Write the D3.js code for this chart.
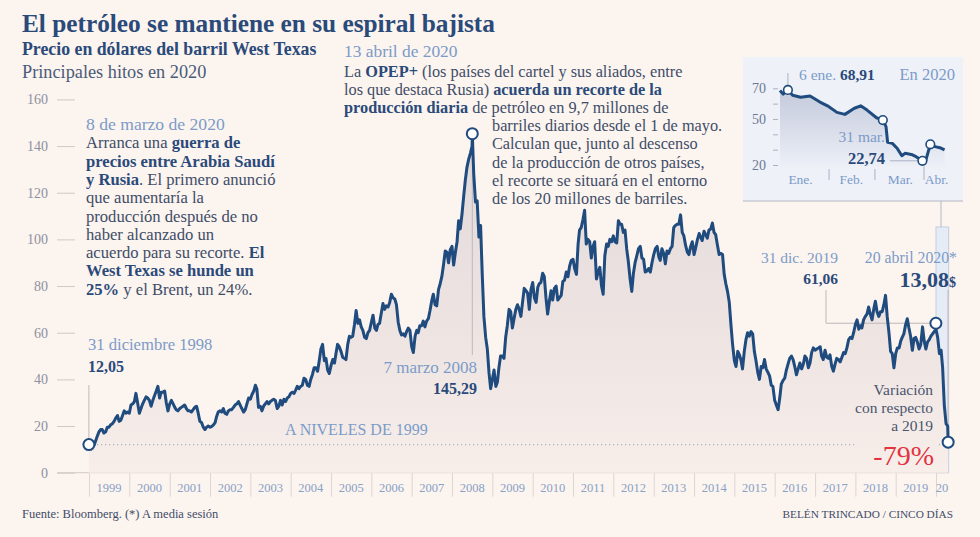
<!DOCTYPE html>
<html><head><meta charset="utf-8">
<script src="https://cdn.jsdelivr.net/npm/d3@7/dist/d3.min.js"></script>
<style>
html,body{margin:0;padding:0;background:#fcf4ef;}
svg{display:block;font-family:"Liberation Serif","Times New Roman",serif;}
</style></head><body>
<svg id="chart" width="980" height="537"></svg>
<script>
// ---------------- DATA ----------------
const yTicks = [0, 20, 40, 60, 80, 100, 120, 140, 160];
const years = [1999,2000,2001,2002,2003,2004,2005,2006,2007,2008,2009,2010,2011,2012,2013,2014,2015,2016,2017,2018,2019,2020];
const yearLabels = ["1999","2000","2001","2002","2003","2004","2005","2006","2007","2008","2009","2010","2011","2012","2013","2014","2015","2016","2017","2018","2019","20"];

// West Texas, semi-monthly readings (1st and 16th of each month) from Jan 1999
const wtiValues = [
 12.5,12.0,12.3,11.8,13.5,15.5,17.5,18.5,18.5,17.0,17.5,19.5,19.5,20.5,21.0,22.0,23.5,24.5,22.0,22.5,24.5,26.5,25.5,26.0, // 1999
 25.5,29.0,29.5,30.5,34.0,30.0,25.5,27.5,29.5,31.0,32.5,32.0,31.0,28.5,31.0,33.0,35.0,37.0,32.0,34.5,34.5,35.0,30.0,26.5, // 2000
 29.5,31.0,29.5,28.0,27.0,26.5,27.5,28.0,28.5,29.0,27.5,26.5,26.5,26.0,27.0,28.0,28.5,25.5,22.0,21.5,19.5,18.5,19.5,20.0, // 2001
 19.5,19.8,20.5,21.5,24.0,26.0,26.5,26.0,27.5,25.5,25.0,26.5,27.0,27.0,28.0,29.0,29.5,30.5,29.0,27.5,26.0,27.0,29.5,32.0, // 2002
 31.5,33.5,35.0,37.5,36.0,28.0,28.5,26.5,28.5,29.5,30.5,29.5,30.5,31.0,31.5,31.0,27.5,28.5,31.0,29.0,31.5,30.5,32.0,32.5, // 2003
 34.0,34.5,34.0,35.5,37.0,36.0,37.0,37.5,40.5,40.0,37.5,37.0,40.0,42.0,45.0,45.0,43.5,48.0,53.0,55.0,48.0,49.0,44.0,42.5, // 2004
 46.0,48.5,47.0,51.5,55.0,54.0,52.0,49.5,49.0,48.5,55.0,58.5,58.0,58.5,63.5,69.5,64.0,65.5,62.5,61.0,58.0,57.5,60.0,61.0, // 2005
 64.5,67.5,62.0,61.0,63.5,64.0,68.5,72.5,70.0,71.5,71.0,73.0,76.5,75.0,74.5,72.0,64.5,61.0,59.0,59.5,58.5,60.5,62.0,61.0, // 2006
 54.0,51.5,58.5,61.0,60.0,63.0,63.0,65.0,62.5,65.0,66.0,69.5,73.5,76.5,72.0,71.5,78.5,81.0,84.0,89.0,95.0,94.5,90.0,95.5, // 2007
 97.0,89.0,94.5,99.0,108.0,104.5,111.0,118.5,125.5,131.0,134.5,137.0,140.0,128.0,116.0,116.5,101.0,106.0,85.0,67.0,58.0,53.0,43.0,36.0, // 2008
 40.0,44.0,37.0,39.0,45.0,50.0,50.0,49.0,58.0,63.0,70.0,69.0,62.0,66.0,70.0,72.0,70.0,67.0,73.0,79.0,78.0,77.0,70.0,78.5, // 2009
 81.5,75.0,73.0,79.5,81.0,81.5,85.5,84.0,75.0,68.0,73.5,78.0,74.0,79.0,80.0,74.0,75.0,76.0,82.0,82.5,86.0,84.0,88.5,91.0, // 2010
 91.5,87.5,85.0,98.0,104.0,105.0,108.5,112.5,98.0,100.0,99.0,92.0,97.0,99.0,83.0,86.0,88.0,80.0,76.5,93.0,98.0,97.0,100.0,99.0, // 2011
 101.5,99.0,98.5,108.0,106.5,106.5,103.0,104.0,96.0,90.5,83.0,77.7,85.5,90.0,93.0,96.0,97.0,92.0,91.5,86.0,86.5,87.5,86.0,90.0, // 2012
 93.5,96.0,97.0,92.5,91.0,96.0,94.0,89.5,95.0,94.0,96.0,97.0,105.0,106.0,106.5,106.5,110.5,103.0,101.5,97.5,94.5,93.5,97.0,99.0, // 2013
 93.5,96.5,100.0,102.5,101.0,99.5,103.5,102.0,100.5,104.0,104.5,107.0,103.0,102.0,97.5,93.5,94.0,93.5,85.0,81.0,77.5,73.0,63.5,55.0, // 2014
 48.0,45.5,52.0,50.5,48.5,44.5,52.0,57.0,60.0,58.5,60.5,59.5,52.0,48.0,43.0,40.0,45.5,45.0,48.5,44.5,43.0,41.5,37.5,37.0, // 2015
 31.0,29.0,27.0,32.0,38.0,39.5,40.5,44.0,46.5,49.0,50.0,48.5,45.5,42.0,44.5,47.0,44.5,46.5,50.0,49.0,45.0,47.0,51.5,53.5, // 2016
 52.5,53.0,53.5,54.0,50.0,48.5,52.5,49.5,49.0,50.5,45.5,43.5,46.5,49.0,48.5,47.5,49.5,51.5,51.0,53.5,57.0,58.0,57.5,60.0, // 2017
 63.5,65.5,61.5,63.0,62.0,65.5,67.0,68.0,71.0,68.0,65.5,70.0,73.5,69.0,67.0,69.0,69.0,72.0,76.0,67.0,60.0,52.0,51.0,45.0, // 2018
 51.0,53.5,53.5,56.5,58.0,59.5,63.5,66.0,62.0,58.5,52.5,57.5,58.0,56.0,53.0,55.0,62.5,56.5,53.0,56.0,57.0,58.5,59.5,60.5, // 2019
 61.5,58.0,51.0,52.5,45.0,29.0,21.0,20.0                                                                              // 2020
];
// highlighted points (dates and values as labelled)
const keyDates  = ["1998-12-31", "2008-07-03", "2019-12-31", "2020-04-20"];
const keyValues = [12.05, 145.29, 61.06, 13.08];

// Inset: 2020
const insetDates = ["2020-01-01","2020-01-03","2020-01-06","2020-01-09","2020-01-14","2020-01-20","2020-01-26","2020-01-31",
  "2020-02-06","2020-02-11","2020-02-17","2020-02-21","2020-02-25","2020-03-02","2020-03-06","2020-03-08","2020-03-09",
  "2020-03-12","2020-03-15","2020-03-18","2020-03-20","2020-03-24","2020-03-27","2020-03-31","2020-04-02","2020-04-05",
  "2020-04-08","2020-04-11","2020-04-14"];
const insetValues = [68.6,66.2,68.91,65.5,64.2,65.0,61.2,58.6,
  54.3,53.0,57.0,58.6,55.8,50.8,49.3,45.0,34.8,
  34.1,30.9,26.0,27.6,26.9,25.4,22.74,22.6,33.5,
  32.0,31.3,29.8];
const insetMarkerDates = ["2020-01-06","2020-03-06","2020-03-31","2020-04-05"];
const insetMarkerValues = [68.91, 49.3, 22.74, 33.5];
const insetTicks = [20, 30, 40, 50, 60, 70];
const insetTickLabels = [20, 50, 70];
const monthLabels = ["Ene.", "Feb.", "Mar.", "Abr."];
const monthLabelDates = ["2020-01-14", "2020-02-15", "2020-03-17", "2020-04-09"];
const monthStarts = ["2020-02-01", "2020-03-01", "2020-04-01"];

// ---------------- HELPERS ----------------
const parse = d3.timeParse("%Y-%m-%d");
const svg = d3.select("#chart");
const C = {
  bg: "#fcf4ef", navy: "#2a4a7a", line: "#1f4b7e", light: "#7b9bc8",
  body: "#3e4d68", grey: "#8c91a0", red: "#e2333f", leader: "#bdb8bc"
};

const series = wtiValues.map((v, i) => ({
  date: new Date(1999 + Math.floor(i / 24), Math.floor((i % 24) / 2), (i % 2) ? 16 : 1),
  value: v
}));
keyDates.forEach((d, i) => series.push({date: parse(d), value: keyValues[i]}));
series.sort((a, b) => a.date - b.date);

// ---------------- SCALES ----------------
const x = d3.scaleTime().domain([new Date(1999,0,1), new Date(2020,0,1)]).range([89, 936]);
const y = d3.scaleLinear().domain([0, 160]).range([472.7, 99.4]);

const defs = svg.append("defs");
const g1 = defs.append("linearGradient").attr("id","mainFill").attr("gradientUnits","userSpaceOnUse")
  .attr("x1",0).attr("y1",130).attr("x2",0).attr("y2",472);
g1.append("stop").attr("offset",0).attr("stop-color","#e0d7d8");
g1.append("stop").attr("offset",1).attr("stop-color","#f7eeea");
const g2 = defs.append("linearGradient").attr("id","insetFill").attr("gradientUnits","userSpaceOnUse")
  .attr("x1",0).attr("y1",88).attr("x2",0).attr("y2",168);
g2.append("stop").attr("offset",0).attr("stop-color","#c3c9db");
g2.append("stop").attr("offset",1).attr("stop-color","#edf0f7");

svg.append("rect").attr("width",980).attr("height",537).attr("fill",C.bg);

// ---------------- TITLES ----------------
svg.append("text").attr("x",22).attr("y",32).attr("font-size",25.3).attr("font-weight","bold").attr("fill",C.navy)
  .text("El petróleo se mantiene en su espiral bajista");
svg.append("text").attr("x",22).attr("y",55).attr("font-size",17.8).attr("font-weight","bold").attr("fill",C.navy)
  .text("Precio en dólares del barril West Texas");
svg.append("text").attr("x",22).attr("y",78).attr("font-size",18.3).attr("fill","#4a5b78")
  .text("Principales hitos en 2020");

// ---------------- 2020 BAND ----------------
svg.append("rect").attr("x", x(new Date(2020,0,1))).attr("y",227)
  .attr("width", x(parse("2020-04-20")) - x(new Date(2020,0,1)) + 0.5).attr("height", 472.7-227)
  .attr("fill","#e6ecf6").attr("stroke","#c3cce0").attr("stroke-width",1);

// ---------------- AXES ----------------
const yAxis = d3.axisLeft(y).tickValues(yTicks).tickSize(18).tickPadding(9);
const gy = svg.append("g").attr("transform","translate(75,0)").call(yAxis);
gy.select(".domain").remove();
gy.selectAll(".tick line").attr("stroke","#cfc8c6");
gy.selectAll(".tick text").attr("fill",C.grey).attr("font-size",14).attr("font-family","Liberation Serif");

svg.append("line").attr("x1",57).attr("x2",948).attr("y1",y(0)).attr("y2",y(0)).attr("stroke","#d3cbc8");
const xAxis = d3.axisBottom(x).tickValues(years.map(yr => new Date(yr,0,1))).tickSize(24).tickFormat("");
const gx = svg.append("g").attr("transform",`translate(0,${y(0)})`).call(xAxis);
gx.select(".domain").remove();
gx.selectAll(".tick line").attr("stroke","#ddd5d2");
svg.append("g").selectAll("text").data(years).join("text")
  .attr("x", yr => yr === 2020 ? x(new Date(2020,1,25)) : x(new Date(yr,6,2)))
  .attr("y", 492).attr("text-anchor","middle").attr("font-size",12.5).attr("fill","#88a1c6")
  .text((yr, i) => yearLabels[i]);

// ---------------- AREA + LINE ----------------
svg.append("path").datum(series)
  .attr("d", d3.area().x(d => x(d.date)).y0(y(0)).y1(d => y(d.value)))
  .attr("fill","url(#mainFill)");

const lvl = y(keyValues[0]);
svg.append("line").attr("x1",97).attr("x2",857).attr("y1",lvl).attr("y2",lvl)
  .attr("stroke","#a9b2c6").attr("stroke-width",1.2).attr("stroke-dasharray","1.2 2.8");
svg.append("line").attr("x1",939).attr("x2",946).attr("y1",lvl).attr("y2",lvl)
  .attr("stroke","#a9b2c6").attr("stroke-width",1.2).attr("stroke-dasharray","1.2 2.8");
svg.append("text").attr("x",285).attr("y",435).attr("font-size",16).attr("fill",C.light)
  .text("A NIVELES DE 1999");

const kx = keyDates.map(d => x(parse(d)));
const ky = keyValues.map(v => y(v));
const leader = (pts) => svg.append("path").attr("d", d3.line()(pts)).attr("fill","none")
  .attr("stroke",C.leader).attr("stroke-width",1);
leader([[kx[0], 385], [kx[0], ky[0]-6]]);
leader([[kx[1], ky[1]+6], [kx[1], 355]]);
leader([[826, 290], [826, ky[2]-7], [kx[2]-6, ky[2]-7]]);
leader([[948, 290], [948, ky[3]-6]]);

svg.append("path").datum(series)
  .attr("d", d3.line().x(d => x(d.date)).y(d => y(d.value)))
  .attr("fill","none").attr("stroke",C.line).attr("stroke-width",3).attr("stroke-linejoin","round");

svg.append("g").selectAll("circle").data(keyDates).join("circle")
  .attr("cx", (d,i) => kx[i]).attr("cy", (d,i) => ky[i] - (i===2 ? 7 : 0)).attr("r",5.5)
  .attr("fill","#fff").attr("stroke",C.line).attr("stroke-width",2);

// ---------------- ANNOTATIONS ----------------
function rich(x0, y0, lines, lh, size) {
  const t = svg.append("g");
  lines.forEach((ln, i) => {
    const tx = t.append("text").attr("x", ln.x != null ? ln.x : x0).attr("y", y0 + i*lh).attr("font-size", size);
    ln.segs.forEach(s => tx.append("tspan").attr("font-weight", s[1] ? "bold" : "normal")
      .attr("fill", s[1] ? C.navy : C.body).text(s[0]));
  });
}
svg.append("text").attr("x",86).attr("y",130).attr("font-size",17.6).attr("fill",C.light).text("8 de marzo de 2020");
rich(86, 148.3, [
  {segs:[["Arranca una ",0],["guerra de",1]]},
  {segs:[["precios entre Arabia Saudí",1]]},
  {segs:[["y Rusia",1],[". El primero anunció",0]]},
  {segs:[["que aumentaría la",0]]},
  {segs:[["producción después de no",0]]},
  {segs:[["haber alcanzado un",0]]},
  {segs:[["acuerdo para su recorte. ",0],["El",1]]},
  {segs:[["West Texas se hunde un",1]]},
  {segs:[["25%",1],[" y el Brent, un 24%.",0]]}
], 18.3, 16.6);

svg.append("text").attr("x",344).attr("y",57).attr("font-size",17.4).attr("fill",C.light).text("13 abril de 2020");
rich(344, 76.5, [
  {segs:[["La ",0],["OPEP+",1],[" (los países del cartel y sus aliados, entre",0]]},
  {segs:[["los que destaca Rusia) ",0],["acuerda un recorte de la",1]]},
  {segs:[["producción diaria",1],[" de petróleo en 9,7 millones de",0]]},
  {x:492, segs:[["barriles diarios desde el 1 de mayo.",0]]},
  {x:492, segs:[["Calculan que, junto al descenso",0]]},
  {x:492, segs:[["de la producción de otros países,",0]]},
  {x:492, segs:[["el recorte se situará en el entorno",0]]},
  {x:492, segs:[["de los 20 millones de barriles.",0]]}
], 18.2, 16.3);

svg.append("text").attr("x",88).attr("y",350).attr("font-size",16.6).attr("fill",C.light).text("31 diciembre 1998");
svg.append("text").attr("x",88).attr("y",372).attr("font-size",16).attr("font-weight","bold").attr("fill",C.navy).text("12,05");
svg.append("text").attr("x",477).attr("y",373).attr("text-anchor","end").attr("font-size",17).attr("fill",C.light).text("7 marzo 2008");
svg.append("text").attr("x",477).attr("y",394).attr("text-anchor","end").attr("font-size",16).attr("font-weight","bold").attr("fill",C.navy).text("145,29");
svg.append("text").attr("x",838).attr("y",263).attr("text-anchor","end").attr("font-size",15.5).attr("fill",C.light).text("31 dic. 2019");
svg.append("text").attr("x",838).attr("y",284).attr("text-anchor","end").attr("font-size",15.5).attr("font-weight","bold").attr("fill",C.navy).text("61,06");
svg.append("text").attr("x",957).attr("y",263).attr("text-anchor","end").attr("font-size",15.8).attr("fill",C.light).text("20 abril 2020*");
const big = svg.append("text").attr("x",956).attr("y",287).attr("text-anchor","end").attr("font-weight","bold").attr("fill",C.navy);
big.append("tspan").attr("font-size",22).text("13,08");
big.append("tspan").attr("font-size",14).text("$");
["Variación","con respecto","a 2019"].forEach((t,i) =>
  svg.append("text").attr("x",933).attr("y",395+i*18).attr("text-anchor","end").attr("font-size",15.5).attr("fill","#4a556e").text(t));
svg.append("text").attr("x",934).attr("y",465).attr("text-anchor","end").attr("font-size",28).attr("fill",C.red).text("-79%");

// ---------------- INSET ----------------
svg.append("rect").attr("x",743).attr("y",57).attr("width",220).attr("height",144).attr("fill","#eef1f8");
svg.append("line").attr("x1",743).attr("x2",963).attr("y1",201).attr("y2",201).attr("stroke","#b3b8c6").attr("stroke-width",1);
svg.append("line").attr("x1",941).attr("x2",941).attr("y1",201).attr("y2",227).attr("stroke","#b3b8c6").attr("stroke-width",1);

const ix = d3.scaleTime().domain([parse("2020-01-01"), parse("2020-04-01")]).range([780, 924]);
const iy = d3.scaleLinear().domain([20, 70]).range([165, 88.3]);
const iData = insetDates.map((d,i) => ({date: parse(d), value: insetValues[i]}));

const gyi = svg.append("g").attr("transform","translate(778,0)")
  .call(d3.axisLeft(iy).tickValues(insetTicks).tickSize(5).tickPadding(7)
    .tickFormat(v => insetTickLabels.includes(v) ? v : ""));
gyi.select(".domain").remove();
gyi.selectAll(".tick line").attr("stroke","#aab1c4");
gyi.selectAll(".tick text").attr("fill","#6b7894").attr("font-size",14).attr("font-family","Liberation Serif");

svg.append("g").selectAll("line").data(monthStarts).join("line")
  .attr("x1", d => ix(parse(d))).attr("x2", d => ix(parse(d)))
  .attr("y1", (d,i) => i === 2 ? 166 : 169).attr("y2", 180).attr("stroke","#aab1c4");
svg.append("g").selectAll("text").data(monthLabels).join("text")
  .attr("x", (d,i) => ix(parse(monthLabelDates[i]))).attr("y",184).attr("text-anchor","middle")
  .attr("font-size",13.5).attr("fill",C.light).text(d => d);

svg.append("path").datum(iData)
  .attr("d", d3.area().x(d => ix(d.date)).y0(iy(19)).y1(d => iy(d.value)))
  .attr("fill","url(#insetFill)");

const imx = insetMarkerDates.map(d => ix(parse(d)));
const imy = insetMarkerValues.map(v => iy(v));
svg.append("line").attr("x1",imx[0]).attr("x2",imx[0]).attr("y1",73).attr("y2",imy[0]-5).attr("stroke","#aab1c4");
svg.append("line").attr("x1",890).attr("x2",imx[2]-4).attr("y1",imy[2]).attr("y2",imy[2]).attr("stroke","#aab1c4");

svg.append("path").datum(iData)
  .attr("d", d3.line().x(d => ix(d.date)).y(d => iy(d.value)))
  .attr("fill","none").attr("stroke",C.line).attr("stroke-width",3).attr("stroke-linejoin","round");
svg.append("g").selectAll("circle").data(insetMarkerDates).join("circle")
  .attr("cx",(d,i) => imx[i]).attr("cy",(d,i) => imy[i]).attr("r",4.3)
  .attr("fill","#fff").attr("stroke",C.line).attr("stroke-width",1.6);

const t6 = svg.append("text").attr("x",799).attr("y",80).attr("font-size",15.5);
t6.append("tspan").attr("fill",C.light).text("6 ene. ");
t6.append("tspan").attr("fill",C.navy).attr("font-weight","bold").text("68,91");
svg.append("text").attr("x",955).attr("y",80).attr("text-anchor","end").attr("font-size",16.5).attr("fill",C.light).text("En 2020");
svg.append("text").attr("x",885).attr("y",142).attr("text-anchor","end").attr("font-size",15.5).attr("fill",C.light).text("31 mar.");
svg.append("text").attr("x",885).attr("y",164).attr("text-anchor","end").attr("font-size",16.5).attr("font-weight","bold").attr("fill",C.navy).text("22,74");

// ---------------- FOOTER ----------------
svg.append("text").attr("x",22).attr("y",518).attr("font-size",12.5).attr("fill",C.body).text("Fuente: Bloomberg. (*) A media sesión");
svg.append("text").attr("x",953).attr("y",518).attr("text-anchor","end").attr("font-size",11.3).attr("fill",C.body).text("BELÉN TRINCADO / CINCO DÍAS");
</script>
</body></html>
